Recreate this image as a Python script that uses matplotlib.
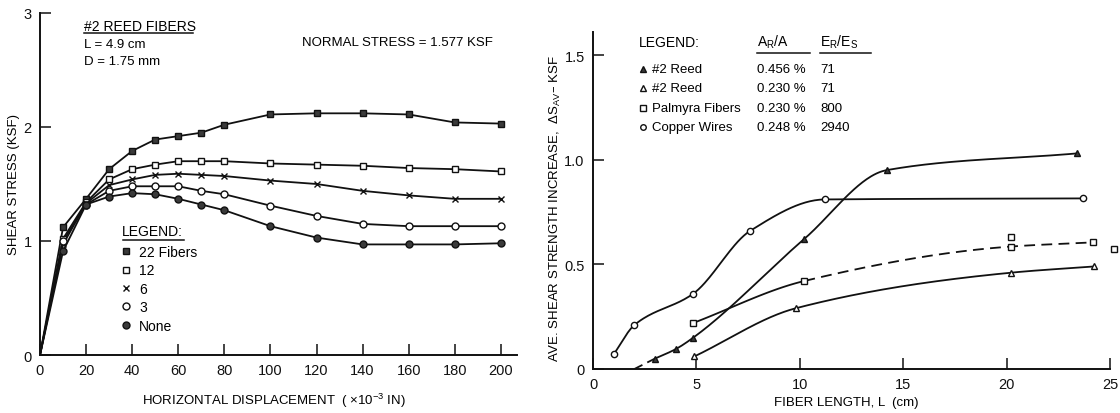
import numpy as np
import matplotlib
matplotlib.use("Agg")
import matplotlib.pyplot as plt
from matplotlib.lines import Line2D

plt.rcParams['font.family'] = ['Liberation Sans', 'DejaVu Sans']
plt.rcParams['mathtext.default'] = 'regular'

# ---- Left panel: shear stress vs horizontal displacement ----
disp = [0, 10, 20, 30, 40, 50, 60, 70, 80, 100, 120, 140, 160, 180, 200]
stress_22 = [0, 1.12, 1.37, 1.63, 1.79, 1.89, 1.92, 1.95, 2.02, 2.11, 2.12, 2.12, 2.11, 2.04, 2.03]
stress_12 = [0, 1.02, 1.34, 1.54, 1.63, 1.67, 1.70, 1.70, 1.70, 1.68, 1.67, 1.66, 1.64, 1.63, 1.61]
stress_6 = [0, 0.97, 1.33, 1.49, 1.54, 1.58, 1.59, 1.58, 1.57, 1.53, 1.50, 1.44, 1.40, 1.37, 1.37]
stress_3 = [0, 1.00, 1.32, 1.44, 1.48, 1.48, 1.48, 1.44, 1.41, 1.31, 1.22, 1.15, 1.13, 1.13, 1.13]
stress_none = [0, 0.91, 1.32, 1.39, 1.42, 1.41, 1.37, 1.32, 1.27, 1.13, 1.03, 0.97, 0.97, 0.97, 0.98]
left_labels = ['22 Fibers', '12', '6', '3', 'None']
left_xticks = [0, 20, 40, 60, 80, 100, 120, 140, 160, 180, 200]
left_yticks = [0, 1, 2, 3]

# ---- Right panel: strength increase vs fiber length ----
reed456_x = [3.0, 4.0, 4.85, 10.2, 14.2, 23.4]
reed456_y = [0.05, 0.095, 0.15, 0.62, 0.95, 1.03]
reed456_ext_x = [2.0, 3.0]
reed456_ext_y = [0.0, 0.05]
reed230_x = [4.9, 9.8, 20.2, 24.25]
reed230_y = [0.06, 0.29, 0.46, 0.49]
palmyra_x = [4.85, 10.2, 20.2, 24.2]
palmyra_y = [0.22, 0.42, 0.585, 0.605]
palmyra_solid_end = 10.2
palmyra_extra_x = [20.2, 25.2]
palmyra_extra_y = [0.63, 0.575]
copper_x = [1.0, 2.0, 4.85, 7.6, 11.2, 23.7]
copper_y = [0.07, 0.21, 0.36, 0.66, 0.81, 0.815]
right_xticks = [0, 5, 10, 15, 20, 25]
right_yticks = [0, 0.5, 1.0, 1.5]
right_yticklabels = ['0', '0.5', '1.0', '1.5']
legend_names = ['#2 Reed', '#2 Reed', 'Palmyra Fibers', 'Copper Wires']
legend_ratio = ['0.456 %', '0.230 %', '0.230 %', '0.248 %']
legend_modulus = ['71', '71', '800', '2940']


def pchip(x, y, n=300):
    """Monotone cubic Hermite curve through the given points."""
    x = np.asarray(x, float)
    y = np.asarray(y, float)
    h = np.diff(x)
    d = np.diff(y) / h
    m = np.zeros_like(y)
    for k in range(1, len(x) - 1):
        if d[k - 1] * d[k] > 0:
            w1 = 2 * h[k] + h[k - 1]
            w2 = h[k] + 2 * h[k - 1]
            m[k] = (w1 + w2) / (w1 / d[k - 1] + w2 / d[k])
    m[0] = d[0]
    m[-1] = d[-1]
    xs = np.linspace(x[0], x[-1], n)
    idx = np.clip(np.searchsorted(x, xs) - 1, 0, len(h) - 1)
    t = (xs - x[idx]) / h[idx]
    h00 = 2 * t**3 - 3 * t**2 + 1
    h10 = t**3 - 2 * t**2 + t
    h01 = -2 * t**3 + 3 * t**2
    h11 = t**3 - t**2
    ys = (h00 * y[idx] + h10 * h[idx] * m[idx] + h01 * y[idx + 1]
          + h11 * h[idx] * m[idx + 1])
    return xs, ys


W, H = 1120, 414
fig = plt.figure(figsize=(W / 100, H / 100), dpi=100)


def fx(px):
    return px / W


def fy(py):
    return 1 - py / H


ink = '#111111'
fillc = '#3a3a3a'
lw = 1.3

# ---------------- left axes ----------------
ax1 = fig.add_axes([fx(40), fy(356), fx(517 - 40), (356 - 14) / H])
series = [stress_22, stress_12, stress_6, stress_3, stress_none]
styles = [
    dict(marker='s', mfc=fillc, mec=ink, ms=5),
    dict(marker='s', mfc='white', mec=ink, ms=5),
    dict(marker='x', mfc=ink, mec=ink, ms=4.5, mew=1.0),
    dict(marker='o', mfc='white', mec=ink, ms=5),
    dict(marker='o', mfc=fillc, mec=ink, ms=5),
]
handles = []
for vals, st, lab in zip(series, styles, left_labels):
    ax1.plot(disp[1:], vals[1:], ls='none', zorder=3, **st)
    ax1.plot(disp, vals, color=ink, lw=lw, zorder=2)
    handles.append(Line2D([], [], ls='none', label=lab, **st))

ax1.set_xlim(0, 207)
ax1.set_ylim(0, 3)
ax1.set_xticks(left_xticks)
ax1.set_yticks(left_yticks)
ax1.set_xlabel(r'HORIZONTAL DISPLACEMENT  ( ×10$^{-3}$ IN)', fontsize=9.5)
ax1.set_ylabel('SHEAR STRESS (KSF)', fontsize=9.5)
ax1.xaxis.set_label_coords(0.49, -0.105)
ax1.yaxis.set_label_coords(-0.042, 0.5)

fig.text(fx(122), fy(232), 'LEGEND:', fontsize=10, va='center', ha='left')
fig.add_artist(Line2D([fx(123), fx(184)], [fy(241), fy(241)], color=ink, lw=1.1))
leg = ax1.legend(handles=handles, loc='upper left',
                 bbox_to_anchor=(fx(121), fy(246)), bbox_transform=fig.transFigure,
                 frameon=False, fontsize=10, handlelength=0.7,
                 handletextpad=0.6, labelspacing=0.32, borderpad=0,
                 borderaxespad=0)

fig.text(fx(84), fy(27), '#2 REED FIBERS', fontsize=10, va='center', ha='left')
fig.text(fx(84), fy(45), 'L = 4.9 cm', fontsize=9.5, va='center', ha='left')
fig.text(fx(84), fy(62), 'D = 1.75 mm', fontsize=9.5, va='center', ha='left')
fig.text(fx(302), fy(43), 'NORMAL STRESS = 1.577 KSF', fontsize=9.5, va='center', ha='left')
fig.add_artist(Line2D([fx(84), fx(193)], [fy(34), fy(34)], color=ink, lw=1.1))

# ---------------- right axes ----------------
ax2 = fig.add_axes([fx(593), fy(370), fx(1110 - 593), (370 - 33) / H])

# copper wires
cx, cy = pchip(copper_x, copper_y)
ax2.plot(cx, cy, color=ink, lw=lw)
ax2.plot(copper_x, copper_y, ls='none', marker='o', mfc='white', mec=ink, ms=4.5)

# #2 reed 0.456 %
rx, ry = pchip(reed456_x, reed456_y)
ax2.plot(rx, ry, color=ink, lw=lw)
ax2.plot(reed456_ext_x, reed456_ext_y, color=ink, lw=lw, ls=(0, (5, 3)))
ax2.plot(reed456_x, reed456_y, ls='none', marker='^', mfc=fillc, mec=ink, ms=4.5)

# #2 reed 0.230 %
sx, sy = pchip(reed230_x, reed230_y)
ax2.plot(sx, sy, color=ink, lw=lw)
ax2.plot(reed230_x, reed230_y, ls='none', marker='^', mfc='white', mec=ink, ms=4.5)

# palmyra fibers: solid over the short lengths, dashed beyond
px_, py_ = pchip(palmyra_x, palmyra_y)
solid = px_ <= palmyra_solid_end
ax2.plot(px_[solid], py_[solid], color=ink, lw=lw)
ax2.plot(px_[~solid], py_[~solid], color=ink, lw=lw, ls=(0, (6, 3.5)))
ax2.plot(palmyra_x, palmyra_y, ls='none', marker='s', mfc='white', mec=ink, ms=4.5)
ax2.plot(palmyra_extra_x, palmyra_extra_y, ls='none', marker='s', mfc='white',
         mec=ink, ms=4.5, clip_on=False)

ax2.set_xlim(0, 25)
ax2.set_ylim(0, 1.61)
ax2.set_xticks(right_xticks)
ax2.set_yticks(right_yticks)
ax2.set_yticklabels(right_yticklabels)
ax2.set_xlabel('FIBER LENGTH, L  (cm)', fontsize=9.5)
ax2.set_ylabel(r'AVE. SHEAR STRENGTH INCREASE,  $\Delta S_{AV}$– KSF', fontsize=9.5)
ax2.xaxis.set_label_coords(0.49, -0.08)
ax2.yaxis.set_label_coords(-0.058, 0.48)

# right legend table
fig.text(fx(639), fy(43), 'LEGEND:', fontsize=10, va='center', ha='left')
fig.text(fx(757), fy(42), r'A$_R$/A', fontsize=10, va='center', ha='left')
fig.text(fx(820), fy(42), r'E$_R$/E$_S$', fontsize=10, va='center', ha='left')
fig.add_artist(Line2D([fx(757), fx(810)], [fy(54), fy(54)], color=ink, lw=1.1))
fig.add_artist(Line2D([fx(820), fx(871)], [fy(54), fy(54)], color=ink, lw=1.1))
leg_markers = [dict(marker='^', mfc=fillc), dict(marker='^', mfc='white'),
               dict(marker='s', mfc='white'), dict(marker='o', mfc='white')]
rows_y = [70, 89, 109, 128]
for yy, mk, nm, ra, mo in zip(rows_y, leg_markers, legend_names, legend_ratio, legend_modulus):
    fig.add_artist(Line2D([fx(643)], [fy(yy)], ls='none', mec=ink, ms=4, **mk))
    fig.text(fx(652), fy(yy), nm, fontsize=9.5, va='center', ha='left')
    fig.text(fx(757), fy(yy), ra, fontsize=9.5, va='center', ha='left')
    fig.text(fx(820), fy(yy), mo, fontsize=9.5, va='center', ha='left')

for ax in (ax1, ax2):
    for s in ('top', 'right'):
        ax.spines[s].set_visible(False)
    for s in ('left', 'bottom'):
        ax.spines[s].set_linewidth(1.4)
        ax.spines[s].set_color(ink)
    ax.tick_params(direction='in', length=8, width=1.1, labelsize=10.5, pad=6,
                   colors=ink)

fig.savefig('out.png', dpi=100, facecolor='white')
